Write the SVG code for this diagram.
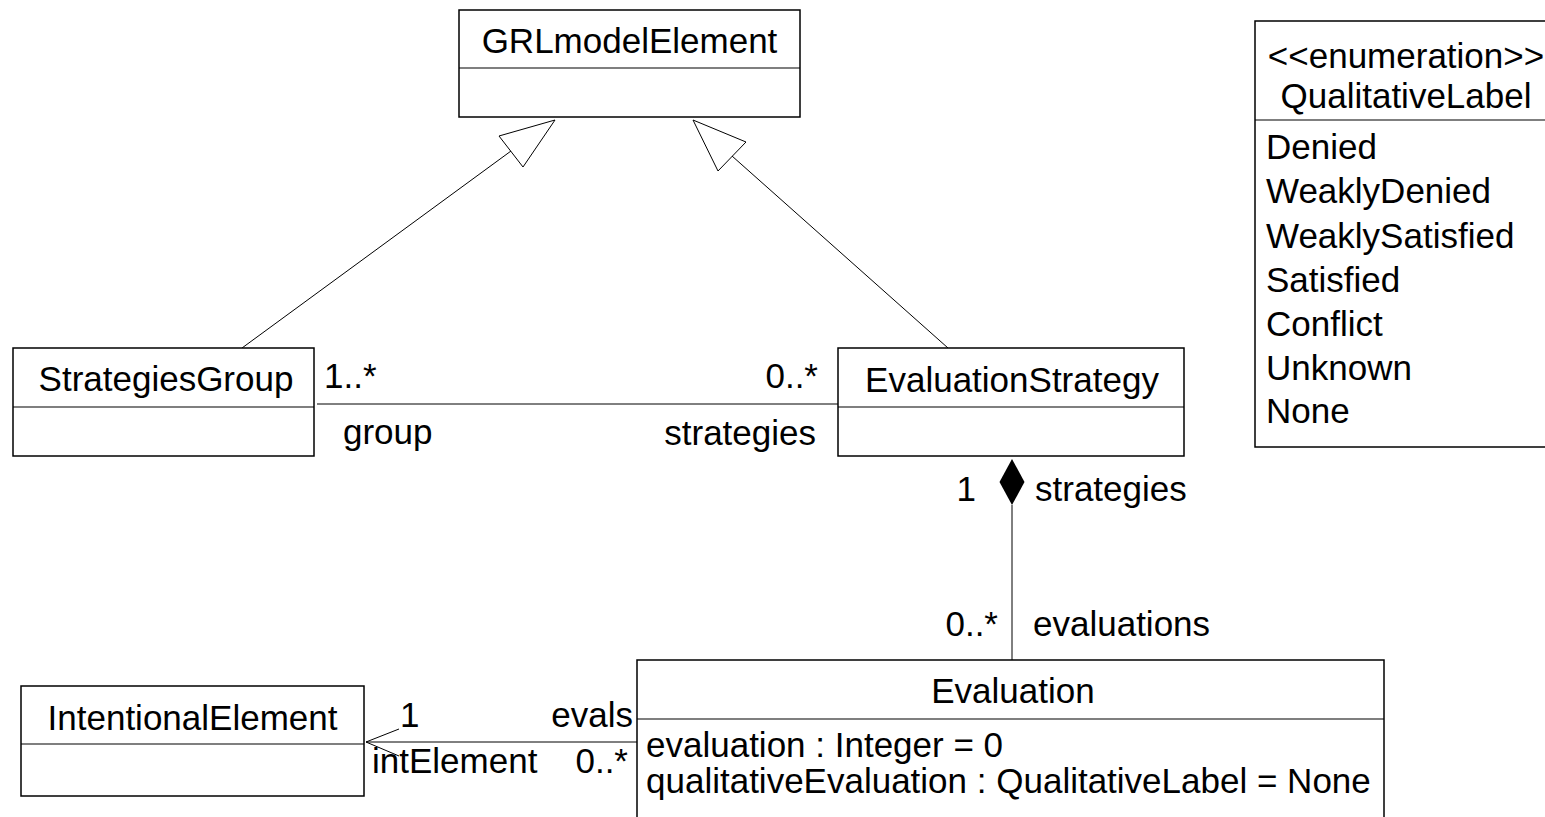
<svg xmlns="http://www.w3.org/2000/svg" width="1545" height="817" viewBox="0 0 1545 817">
<style>
text{font-family:"Liberation Sans",Arial,sans-serif;font-size:35px;fill:#000}
.box{fill:#fff;stroke:#000;stroke-width:1.5}
.div{stroke:#000;stroke-width:1.2}
.c{stroke:#000;stroke-width:1;fill:none}
.mid{text-anchor:middle}
.end{text-anchor:end}
</style>
<rect width="1545" height="817" fill="#fff"/>
<g id="connectors">
  <polyline class="c" points="242,348 511,151"/>
  <polygon class="c" points="555,120 499,136 523,167" fill="#fff"/>
  <polyline class="c" points="948,348 732,156"/>
  <polygon class="c" points="693,120 746,142 718,171" fill="#fff"/>
  <line class="c" x1="317" y1="404" x2="838" y2="404"/>
  <line class="c" x1="1012" y1="505" x2="1012" y2="660"/>
  <polygon points="1012,459 1024.5,482 1012,505 999.5,482" fill="#000"/>
  <line class="c" x1="366" y1="742" x2="637" y2="742"/>
  <polyline class="c" points="399,729 366,742 399,756"/>
  <text x="324" y="388">1..*</text>
  <text x="343" y="444">group</text>
  <text class="end" x="818" y="388">0..*</text>
  <text class="end" x="816" y="445">strategies</text>
  <text class="end" x="976" y="501">1</text>
  <text x="1035" y="501">strategies</text>
  <text class="end" x="998" y="636">0..*</text>
  <text x="1033" y="636">evaluations</text>
  <text x="400" y="727">1</text>
  <text class="end" x="633" y="727">evals</text>
  <text x="372" y="773">intElement</text>
  <text class="end" x="628" y="773">0..*</text>
</g>
<g id="GRLmodelElement">
  <rect class="box" x="459" y="10" width="341" height="107"/>
  <line class="div" x1="459" y1="68" x2="800" y2="68"/>
  <text class="mid" x="629.5" y="53">GRLmodelElement</text>
</g>
<g id="QualitativeLabel">
  <rect class="box" x="1255" y="21" width="302" height="426"/>
  <line class="div" x1="1255" y1="120" x2="1557" y2="120"/>
  <text class="mid" x="1406" y="68">&lt;&lt;enumeration&gt;&gt;</text>
  <text class="mid" x="1406" y="108">QualitativeLabel</text>
  <text x="1266" y="159">Denied</text>
  <text x="1266" y="203">WeaklyDenied</text>
  <text x="1266" y="248">WeaklySatisfied</text>
  <text x="1266" y="292">Satisfied</text>
  <text x="1266" y="336">Conflict</text>
  <text x="1266" y="380">Unknown</text>
  <text x="1266" y="423">None</text>
</g>
<g id="StrategiesGroup">
  <rect class="box" x="13" y="348" width="301" height="108"/>
  <line class="div" x1="13" y1="407" x2="314" y2="407"/>
  <text class="mid" x="166" y="391">StrategiesGroup</text>
</g>
<g id="EvaluationStrategy">
  <rect class="box" x="838" y="348" width="346" height="108"/>
  <line class="div" x1="838" y1="407" x2="1184" y2="407"/>
  <text class="mid" x="1012" y="392">EvaluationStrategy</text>
</g>
<g id="IntentionalElement">
  <rect class="box" x="21" y="686" width="343" height="110"/>
  <line class="div" x1="21" y1="744" x2="364" y2="744"/>
  <text class="mid" x="192.5" y="730">IntentionalElement</text>
</g>
<g id="Evaluation">
  <rect class="box" x="637" y="660" width="747" height="180"/>
  <line class="div" x1="637" y1="719" x2="1384" y2="719"/>
  <text class="mid" x="1013" y="703">Evaluation</text>
  <text x="646" y="757">evaluation : Integer = 0</text>
  <text x="646" y="793">qualitativeEvaluation : QualitativeLabel = None</text>
</g>
</svg>
